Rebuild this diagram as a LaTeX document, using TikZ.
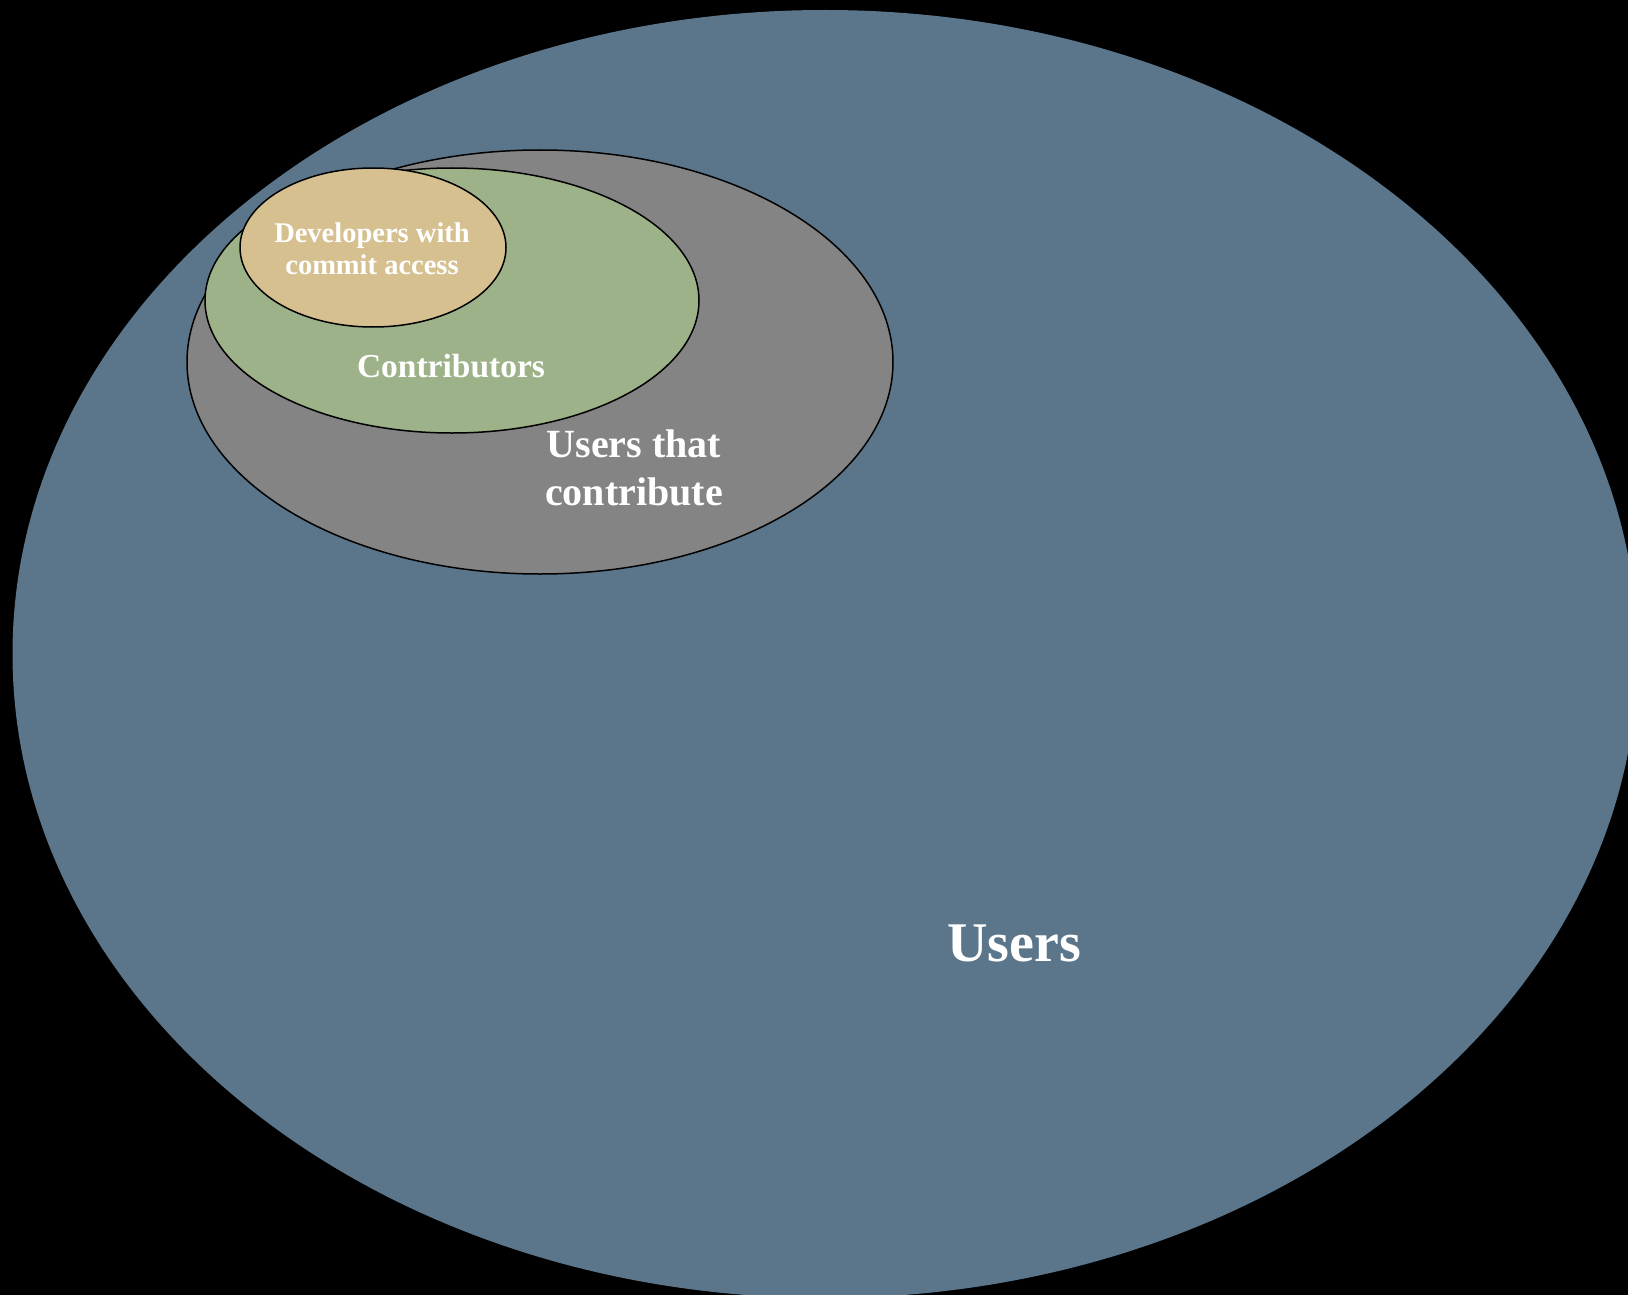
\documentclass[tikz,border=0pt]{standalone}
\usepackage{fontspec}
\setmainfont{Liberation Serif}
\usetikzlibrary{shapes.geometric}
\definecolor{userblue}{RGB}{91,118,139}
\definecolor{contribgray}{RGB}{132,132,132}
\definecolor{contribgreen}{RGB}{157,178,136}
\definecolor{devtan}{RGB}{214,192,144}
\tikzset{
  setshape/.style={ellipse, inner sep=0pt, line width=1.5pt},
  lbl/.style={text=white, align=center, inner sep=0pt, font=\bfseries}
}
\begin{document}
\begin{tikzpicture}[x=1pt,y=-1pt]
\useasboundingbox (0,0) rectangle (1628,1295);
\fill[black] (0,0) rectangle (1628,1295);
\begin{scope}
\clip (0,0) rectangle (1628,1295);
\node[setshape, fill=userblue, minimum width=1625pt, minimum height=1288pt] (users) at (825,654) {};
\end{scope}
\node[setshape, draw=black, fill=contribgray, minimum width=706pt, minimum height=424pt] (uc) at (540,362) {};
\node[setshape, draw=black, fill=contribgreen, minimum width=494pt, minimum height=265pt] (contrib) at (452,300.5) {};
\node[setshape, draw=black, fill=devtan, minimum width=266pt, minimum height=159pt] (dev) at (373,247.5) {};
\node[lbl, font=\bfseries\fontsize{28.5}{32}\selectfont] (devlbl) at (372,249) {Developers with\\commit access};
\node[lbl, font=\bfseries\fontsize{33.5}{38}\selectfont] (contriblbl) at (451,366) {Contributors};
\node[lbl, font=\bfseries\fontsize{40}{48}\selectfont] (uclbl) at (634,468) {Users that\\contribute};
\node[lbl, font=\bfseries\fontsize{56}{60}\selectfont] (userslbl) at (1014,943) {Users};
\end{tikzpicture}
\end{document}
